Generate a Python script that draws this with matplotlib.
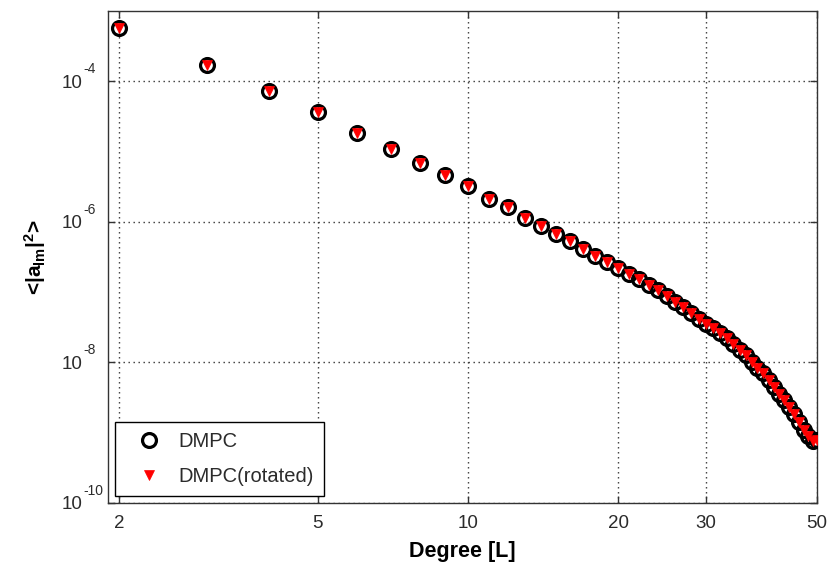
import matplotlib
matplotlib.use("Agg")
import matplotlib.pyplot as plt
import matplotlib.transforms as mtransforms
from matplotlib.ticker import FixedLocator, FixedFormatter, NullLocator

plt.rcParams['font.family'] = ['Liberation Sans', 'DejaVu Sans']
plt.rcParams['mathtext.fontset'] = 'custom'
plt.rcParams['mathtext.rm'] = 'Liberation Sans'
plt.rcParams['mathtext.it'] = 'Liberation Sans'
plt.rcParams['mathtext.bf'] = 'Liberation Sans:bold'
plt.rcParams['mathtext.default'] = 'regular'

degree = [2, 3, 4, 5, 6, 7, 8, 9, 10, 11, 12, 13, 14, 15, 16, 17, 18, 19, 20,
          21, 22, 23, 24, 25, 26, 27, 28, 29, 30, 31, 32, 33, 34, 35, 36, 37,
          38, 39, 40, 41, 42, 43, 44, 45, 46, 47, 48, 49, 50]

dmpc = [5.68e-4, 1.71e-4, 7.21e-5, 3.59e-5, 1.86e-5, 1.10e-5, 6.82e-6, 4.56e-6,
        3.18e-6, 2.12e-6, 1.61e-6, 1.14e-6, 8.77e-7, 6.75e-7, 5.30e-7, 4.13e-7,
        3.21e-7, 2.66e-7, 2.22e-7, 1.82e-7, 1.51e-7, 1.24e-7, 1.05e-7, 8.75e-8,
        7.24e-8, 6.03e-8, 5.01e-8, 4.17e-8, 3.51e-8, 3.02e-8, 2.60e-8, 2.19e-8,
        1.80e-8, 1.51e-8, 1.26e-8, 1.02e-8, 8.32e-9, 6.92e-9, 5.50e-9, 4.47e-9,
        3.55e-9, 2.88e-9, 2.29e-9, 1.82e-9, 1.41e-9, 1.10e-9, 8.91e-10,
        7.59e-10, 7.94e-10]

dmpc_rotated = [5.68e-4, 1.71e-4, 7.21e-5, 3.59e-5, 1.86e-5, 1.10e-5, 6.82e-6,
                4.56e-6, 3.18e-6, 2.12e-6, 1.61e-6, 1.14e-6, 8.77e-7, 6.75e-7,
                5.30e-7, 4.13e-7, 3.21e-7, 2.66e-7, 2.22e-7, 1.82e-7, 1.51e-7,
                1.24e-7, 1.05e-7, 8.75e-8, 7.24e-8, 6.03e-8, 5.01e-8, 4.17e-8,
                3.51e-8, 3.02e-8, 2.60e-8, 2.19e-8, 1.80e-8, 1.51e-8, 1.26e-8,
                1.02e-8, 8.32e-9, 6.92e-9, 5.50e-9, 4.47e-9, 3.55e-9, 2.88e-9,
                2.29e-9, 1.82e-9, 1.41e-9, 1.10e-9, 8.91e-10, 7.59e-10,
                7.94e-10]

x_ticks = [2, 5, 10, 20, 30, 50]
x_ticklabels = ['2', '5', '10', '20', '30', '50']
y_ticks = [1e-10, 1e-8, 1e-6, 1e-4]
y_tick_base = ['10', '10', '10', '10']
y_tick_exponents = ['-10', '-8', '-6', '-4']

label_color = '#2b2b2b'

fig = plt.figure(figsize=(8.3, 5.69), dpi=100)
ax = fig.add_axes([0.1301, 0.1165, 0.8542, 0.8642])

ax.plot(degree, dmpc, linestyle='none', marker='o', markersize=10,
        markerfacecolor='none', markeredgecolor='black', markeredgewidth=2.3,
        label='DMPC', zorder=3)
ax.plot(degree, dmpc_rotated, linestyle='none', marker='v', markersize=7.5,
        markerfacecolor='red', markeredgecolor='red', markeredgewidth=0.5,
        label='DMPC(rotated)', zorder=4)

ax.set_xscale('log')
ax.set_yscale('log')
ax.set_xlim(1.9, 50)
ax.set_ylim(1e-10, 1e-3)

ax.xaxis.set_major_locator(FixedLocator(x_ticks))
ax.xaxis.set_major_formatter(FixedFormatter(x_ticklabels))
ax.xaxis.set_minor_locator(NullLocator())
ax.yaxis.set_major_locator(FixedLocator(y_ticks))
ax.yaxis.set_major_formatter(FixedFormatter(y_tick_base))
ax.yaxis.set_minor_locator(NullLocator())

ax.grid(True, which='major', linestyle=(0, (1, 2.6)), color='#333333', linewidth=1.0)
ax.tick_params(which='both', direction='in', length=5, width=1.0,
               top=True, right=True, labelsize=13.5, labelcolor=label_color,
               color='#333333')
ax.tick_params(axis='x', pad=9)
ax.tick_params(axis='y', pad=18)
for s in ax.spines.values():
    s.set_color('#333333')
    s.set_linewidth(1.0)

# exponents of the y tick labels, raised like the reference
ytrans = mtransforms.blended_transform_factory(ax.transAxes, ax.transData)
exp_trans = mtransforms.offset_copy(ytrans, fig=fig, x=-25, y=12, units='dots')
for yv, ex in zip(y_ticks, y_tick_exponents):
    ax.text(0, yv, ex, transform=exp_trans, ha='left', va='center',
            fontsize=10, color=label_color, clip_on=False)

ax.set_xlabel('Degree [L]', fontsize=15.5, fontweight='bold', labelpad=6)
ax.set_ylabel(r'<|a$_{lm}$|$^{2}$>', fontsize=15, fontweight='bold', labelpad=10)

leg = ax.legend(loc='lower left', bbox_to_anchor=(0.01, 0.014), borderaxespad=0,
                fontsize=14.5, frameon=True, fancybox=False, edgecolor='black',
                framealpha=1, handletextpad=0.25, borderpad=0.5, labelspacing=0.8,
                handlelength=2.4, labelcolor=label_color)
leg.get_frame().set_linewidth(1.0)

fig.savefig('out.png', dpi=100)
